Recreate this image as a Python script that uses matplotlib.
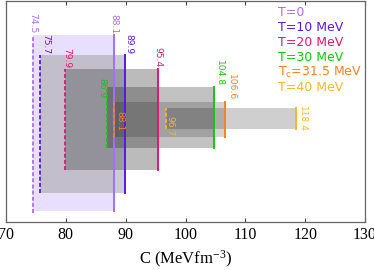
import matplotlib
matplotlib.use("Agg")
import matplotlib.pyplot as plt
from matplotlib.patches import Rectangle

# ---- data ----
series_labels = ['T=0', 'T=10 MeV', 'T=20 MeV', 'T=30 MeV',
                 r'T$\mathregular{_c}$=31.5 MeV', 'T=40 MeV']
c_low = [74.5, 75.7, 79.9, 86.9, 88.1, 96.7]
c_high = [88.1, 89.9, 95.4, 104.8, 106.6, 118.4]
xticks = [70, 80, 90, 100, 110, 120, 130]

# ---- style / layout ----
colors = ['#a86cff', '#5a18dc', '#e0186e', '#10c810', '#ff8020', '#f5b828']
face = [('#e8defe', 1.0), ('#aaaaaa', 0.6), ('#3a3a3a', 0.34),
        ('#000000', 0.24), ('#000000', 0.17), ('#000000', 0.19)]
box_top = [187, 167, 153, 135, 120, 114]
box_bot = [11, 29, 52, 74, 85, 93]
low_line_bot = [9, 29, 52, 74, 85, 93]
# label offsets in points (dx, dy) relative to (x, top) for low and high labels
low_off = [(0, 1), (4, 1), (1, 1), (-4, -8), (4, -21), (3, -20.5)]
high_off = [(0, 1), (2.5, 1), (0, 1), (4, 1), (5, 1), (5, -17)]

plt.rcParams['font.family'] = ['Liberation Serif', 'DejaVu Serif']

fig = plt.figure(figsize=(3.74, 2.70), dpi=100)
ax = fig.add_axes([0.016, 0.178, 0.96, 0.818])

for i in range(len(c_low)):
    fc, a = face[i]
    ax.add_patch(Rectangle((c_low[i], box_bot[i]), c_high[i] - c_low[i],
                           box_top[i] - box_bot[i], facecolor=fc, alpha=a,
                           edgecolor='none', zorder=1 + i * 0.01))

for i in range(len(c_low)):
    col = colors[i]
    ax.plot([c_low[i], c_low[i]], [low_line_bot[i], box_top[i]], color=col,
            lw=1.3, ls=(0, (2.2, 1.2)), zorder=4 + i * 0.01)
    ax.plot([c_high[i], c_high[i]], [box_bot[i], box_top[i]], color=col,
            lw=1.4, zorder=3 + i * 0.01)
    for val, off in ((c_low[i], low_off[i]), (c_high[i], high_off[i])):
        ax.annotate(f'{val:.1f}', xy=(val, box_top[i]), xytext=off,
                    textcoords='offset points', rotation=-90, ha='center',
                    va='bottom', color=col, fontsize=6.6,
                    family='DejaVu Sans', zorder=6)

for i, lab in enumerate(series_labels):
    ax.text(0.758, 0.95 - i * 0.0685, lab, transform=ax.transAxes,
            color=colors[i], fontsize=9, family='DejaVu Sans',
            va='center', ha='left')

ax.set_xlim(70, 130)
ax.set_ylim(0, 221)
ax.set_xticks(xticks)
ax.set_xticklabels([str(t) for t in xticks], fontsize=11.5)
ax.set_yticks([])
ax.tick_params(axis='x', direction='in', top=True, bottom=True, length=3,
               color='#444444', pad=4)
for sp in ax.spines.values():
    sp.set_color('#666666')
    sp.set_linewidth(0.9)
ax.set_xlabel(r'C (MeVfm$\mathregular{^{-3}}$)', fontsize=12, labelpad=4)

fig.savefig('out.png', dpi=100)
